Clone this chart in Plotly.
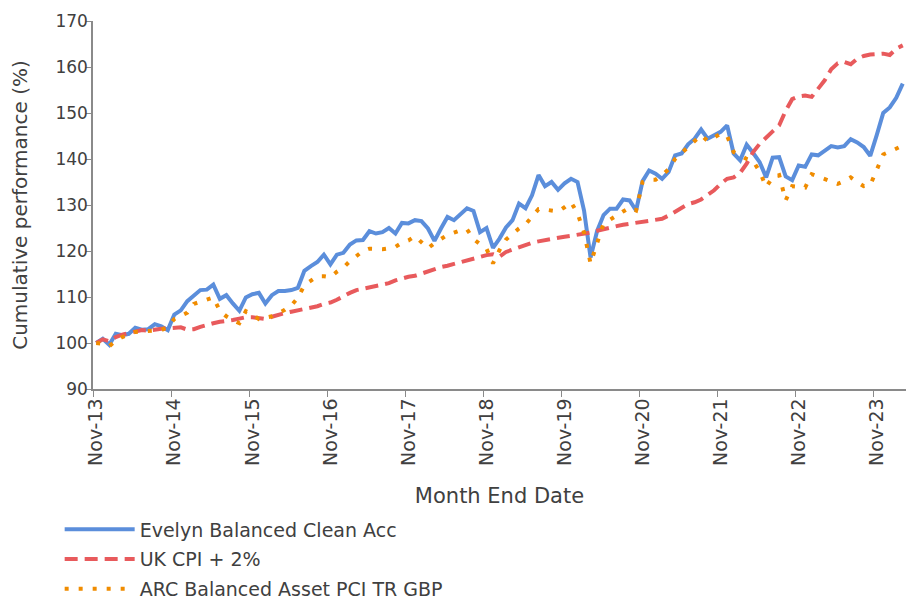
import pandas as pd
import plotly.graph_objects as go

# Month-end categories Nov-13 .. Mar-24
months = list(pd.date_range("2013-11-30", periods=125, freq="ME").strftime("%b-%y"))

evelyn = [
    100.0, 100.9, 99.6, 102.0, 101.7, 102.0, 103.3, 102.9, 103.0, 104.1,
    103.6, 102.8, 106.2, 107.1, 109.1, 110.4, 111.5, 111.6, 112.7, 109.6,
    110.4, 108.6, 107.0, 109.9, 110.6, 110.9, 108.6, 110.4, 111.3, 111.3,
    111.5, 112.0, 115.7, 116.7, 117.6, 119.2, 117.1, 119.2, 119.6, 121.4,
    122.3, 122.4, 124.3, 123.8, 124.1, 125.0, 123.8, 126.1, 126.0, 126.7,
    126.5, 124.9, 122.2, 124.9, 127.4, 126.7, 128.1, 129.3, 128.7, 124.1,
    125.0, 120.7, 122.7, 125.1, 126.7, 130.3, 129.3, 132.1, 136.5, 134.1,
    135.0, 133.3, 134.7, 135.7, 135.0, 128.8, 118.6, 124.3, 127.8, 129.2,
    129.2, 131.2, 131.0, 128.8, 135.2, 137.5, 136.8, 135.7, 137.2, 140.8,
    141.2, 143.2, 144.4, 146.4, 144.4, 145.2, 145.9, 147.3, 141.2, 139.7,
    143.1, 141.3, 139.3, 136.0, 140.3, 140.4, 136.2, 135.4, 138.6, 138.3,
    141.0, 140.8, 141.9, 142.8, 142.5, 142.8, 144.3, 143.6, 142.6, 140.7,
    145.2, 150.0, 151.2, 153.3, 156.4,
]

uk_cpi_2 = [
    100.0, 100.8, 100.4, 101.3, 101.8, 102.1, 102.5, 102.8, 102.7, 103.0,
    103.1, 103.2, 103.3, 103.4, 102.9, 103.0, 103.5, 104.0, 104.3, 104.6,
    104.7, 105.0, 105.3, 105.6, 105.6, 105.3, 105.2, 105.7, 106.2, 106.5,
    106.8, 107.1, 107.3, 107.7, 108.0, 108.5, 108.8, 109.4, 110.2, 110.9,
    111.5, 111.8, 112.0, 112.4, 112.8, 113.0, 113.6, 114.1, 114.4, 114.6,
    115.1, 115.6, 116.1, 116.5, 116.8, 117.2, 117.6, 118.1, 118.4, 118.8,
    119.1, 119.3, 118.8, 119.8, 120.3, 120.9, 121.4, 121.8, 122.1, 122.4,
    122.7, 122.9, 123.1, 123.3, 123.5, 123.7, 124.0, 124.4, 124.8, 125.2,
    125.4, 125.7, 125.9, 126.1, 126.3, 126.5, 126.7, 127.0, 127.7, 128.5,
    129.4, 130.2, 130.6, 131.2, 132.2, 133.2, 134.6, 135.7, 136.0, 137.0,
    139.0, 141.5, 143.3, 144.8, 146.0, 147.3, 150.5, 153.0, 153.6, 153.8,
    153.5, 155.3, 157.1, 159.5, 160.8, 161.1, 160.6, 161.8, 162.4, 162.7,
    162.7, 162.9, 162.6, 164.0, 164.7,
]

arc_balanced = [
    100.0, 99.8, 99.3, 100.5, 101.3, 101.8, 102.4, 102.5, 102.6, 102.7,
    102.8, 103.5, 105.2, 105.9, 106.6, 108.5, 109.0, 109.5, 109.9, 107.0,
    105.8, 105.0, 104.3, 106.9, 106.2, 105.2, 105.6, 105.8, 106.5, 107.2,
    108.2, 109.8, 112.6, 113.6, 114.5, 114.5, 114.3, 115.5, 116.4, 117.8,
    118.8, 120.0, 120.5, 120.4, 120.4, 120.6, 120.9, 121.8, 122.3, 123.2,
    122.0, 120.6, 121.7, 122.6, 123.5, 124.0, 124.5, 124.7, 122.6, 121.5,
    120.5, 117.3, 120.2, 122.5, 123.8, 124.9, 125.8, 127.5, 129.1, 129.0,
    128.8, 128.6, 129.5, 130.6, 128.2, 124.0, 117.3, 122.0, 126.0, 126.8,
    127.8, 128.6, 129.4, 128.8, 135.0, 135.5, 135.5, 136.5, 137.8, 140.0,
    141.3, 142.6, 144.0, 145.2, 143.9, 144.7, 145.5, 145.0, 141.5, 140.8,
    140.0, 139.5, 137.3, 133.9, 136.0, 136.5, 131.0, 134.1, 133.9, 133.8,
    136.7, 136.2, 135.7, 135.2, 134.6, 135.2, 136.0, 135.0, 134.1, 134.3,
    137.7, 141.0, 141.6, 142.3, 142.9,
]

series_names = ["Evelyn Balanced Clean Acc", "UK CPI + 2%", "ARC Balanced Asset PCI TR GBP"]
y_ticks = [90, 100, 110, 120, 130, 140, 150, 160, 170]

FONT = "DejaVu Sans"
TXT = "#404040"
AX = "#8a8a8a"

fig = go.Figure()
fig.add_trace(go.Scatter(x=months, y=evelyn, name=series_names[0], mode="lines",
                         legendgroup="a",
                         line=dict(color="#5B8EDB", width=4)))
fig.add_trace(go.Scatter(x=months, y=uk_cpi_2, name=series_names[1], mode="lines",
                         legendgroup="b",
                         line=dict(color="#E85A5C", width=4, dash="13px,7px")))
fig.add_trace(go.Scatter(x=months, y=arc_balanced, name=series_names[2], mode="lines",
                         legendgroup="c",
                         line=dict(color="#F08C00", width=4, dash="4px,10px")))

# page body adds an 8px offset, so the figure is 8px smaller than the window
fig.update_layout(
    width=906, height=593,
    margin=dict(l=85, r=8, t=13, b=212, autoexpand=False),
    paper_bgcolor="white", plot_bgcolor="white",
    font=dict(family=FONT, size=18, color=TXT),
    showlegend=True,
    legend=dict(orientation="v", x=-0.041, xanchor="left", y=-0.330, yanchor="top",
                font=dict(family=FONT, size=19, color=TXT), itemwidth=70,
                tracegroupgap=2, bgcolor="rgba(0,0,0,0)"),
)
fig.update_xaxes(
    type="category", range=[-0.5, len(months) - 0.5], automargin=False,
    tickmode="linear", tick0=0, dtick=12, tickson="boundaries",
    tickangle=-90, ticks="outside", ticklen=6, tickcolor=AX,
    showline=True, linecolor=AX, linewidth=1.5, showgrid=False, zeroline=False,
    tickfont=dict(family=FONT, size=19, color=TXT),
    title=dict(text="Month End Date", font=dict(family=FONT, size=21, color=TXT), standoff=23),
)
fig.update_yaxes(
    range=[90, 170], tickvals=y_ticks, ticks="outside", ticklen=5, tickcolor=AX,
    automargin=False, ticklabelstandoff=-5,
    showline=True, linecolor=AX, linewidth=1.5, showgrid=False, zeroline=False,
    tickfont=dict(family=FONT, size=17, color=TXT),
    title=dict(text="Cumulative performance (%)", font=dict(family=FONT, size=20, color=TXT), standoff=22),
)

fig.write_html("out.html")
